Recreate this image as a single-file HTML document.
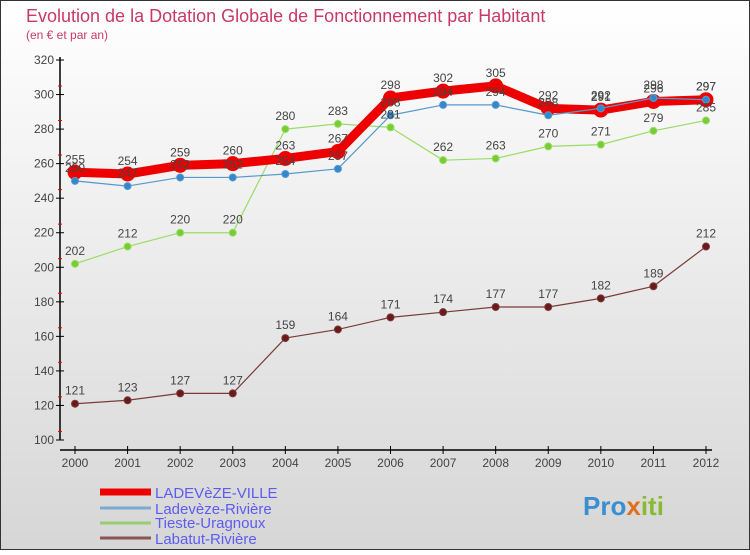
<!DOCTYPE html>
<html><head><meta charset="utf-8"><style>
body{margin:0;width:750px;height:550px;overflow:hidden;font-family:"Liberation Sans",sans-serif}
svg text{font-family:"Liberation Sans",sans-serif}
</style></head><body>
<svg id="c" width="750" height="550" xmlns="http://www.w3.org/2000/svg">
<defs><linearGradient id="bg" x1="0" y1="0" x2="0" y2="1"><stop offset="0" stop-color="#ffffff"/><stop offset="1" stop-color="#d6d6d6"/></linearGradient></defs>
<rect x="0.5" y="0.5" width="749" height="549" fill="url(#bg)" stroke="#333"/>
<text x="26" y="22" font-size="18" fill="#c8386a">Evolution de la Dotation Globale de Fonctionnement par Habitant</text>
<text x="26" y="39" font-size="12" fill="#c8386a">(en € et par an)</text>
<g id="axes"></g><g id="series"></g><g id="labels"></g>
<g>
<line x1="100" y1="492" x2="151" y2="492" stroke="#e00" stroke-width="7"/>
<text x="155" y="498" font-size="15" fill="#5c5cf0">LADEVèZE-VILLE</text>
<line x1="100" y1="508" x2="151" y2="508" stroke="#7aaad0" stroke-width="3"/>
<text x="155" y="514" font-size="15" fill="#5c5cf0">Ladevèze-Rivière</text>
<line x1="100" y1="523" x2="151" y2="523" stroke="#99cc77" stroke-width="3"/>
<text x="155" y="528" font-size="15" fill="#5c5cf0">Tieste-Uragnoux</text>
<line x1="100" y1="538" x2="151" y2="538" stroke="#8a5555" stroke-width="3"/>
<text x="155" y="544" font-size="15" fill="#5c5cf0">Labatut-Rivière</text>
</g>
<text x="583" y="515" font-size="26" font-weight="bold" fill="#3a8fd0">Pro<tspan fill="#e07020">x</tspan><tspan fill="#88bb33">iti</tspan></text>
</svg>
<script>
const years=[2000,2001,2002,2003,2004,2005,2006,2007,2008,2009,2010,2011,2012];
const yTicks=[100,120,140,160,180,200,220,240,260,280,300,320];
const ladevezeVille=[255,254,259,260,263,267,298,302,305,292,291,296,297];
const ladevezeRiviere=[250,247,252,252,254,257,288,294,294,288,292,298,297];
const tiesteUragnoux=[202,212,220,220,280,283,281,262,263,270,271,279,285];
const labatutRiviere=[121,123,127,127,159,164,171,174,177,177,182,189,212];
const NS="http://www.w3.org/2000/svg";
const xS=i=>75+i*(706-75)/(years.length-1);
const yS=v=>440-(v-100)*(380/220);
function mk(p,t,a){const e=document.createElementNS(NS,t);for(const k in a)e.setAttribute(k,a[k]);p.appendChild(e);return e;}
const ax=document.getElementById('axes');
let yl=mk(ax,'line',{x1:60,y1:57,x2:60,y2:440,stroke:'#000','stroke-width':1.5});


yTicks.forEach(v=>{
 const y=yS(v);
 const t=mk(ax,'line',{x1:56,y1:y,x2:64,y2:y,stroke:'#000'});
 
 
 if(v<320){const m=mk(ax,'line',{x1:58,y1:y-8.6,x2:62,y2:y-8.6,stroke:'#e00'});
 
 }
 const l=mk(ax,'text',{x:54,y:y+4,'font-size':12,fill:'#444','text-anchor':'end'});l.textContent=v;
 
 
});
let xl=mk(ax,'line',{x1:60,y1:450,x2:712,y2:450,stroke:'#000','stroke-width':1.5});


years.forEach((yr,i)=>{
 const x=xS(i);
 const t=mk(ax,'line',{x1:x,y1:446,x2:x,y2:454,stroke:'#000'});
 
 
 const l=mk(ax,'text',{x:x,y:467,'font-size':12,fill:'#444','text-anchor':'middle'});l.textContent=yr;
 
 
});
const sg=document.getElementById('series'),lg=document.getElementById('labels');
function series(data,name,color,w,r,dot){
 const pts=data.map((v,i)=>xS(i)+','+yS(v)).join(' ');
 const pl=mk(sg,'polyline',{points:pts,fill:'none',stroke:color,'stroke-width':w,'stroke-linejoin':'round'});
 
 
 data.forEach((v,i)=>{
  const c=mk(sg,'circle',{cx:xS(i),cy:yS(v),r:r,fill:dot,stroke:color,'stroke-width':1});
  
  
  const t=mk(lg,'text',{x:xS(i),y:yS(v)-9,'font-size':12,fill:'#444','text-anchor':'middle'});t.textContent=v;
  
  
 });
}
series(labatutRiviere,'labatut-riviere','#7a3a3a',1.2,3.5,'#6a1a1a');
series(tiesteUragnoux,'tieste-uragnoux','#99dd66',1.2,3.5,'#77cc33');
series(ladevezeVille,'ladeveze-ville','#ee0000',9,7,'#ee0000');
series(ladevezeRiviere,'ladeveze-riviere','#5599cc',1.2,3.5,'#3388cc');
</script>
</body></html>
